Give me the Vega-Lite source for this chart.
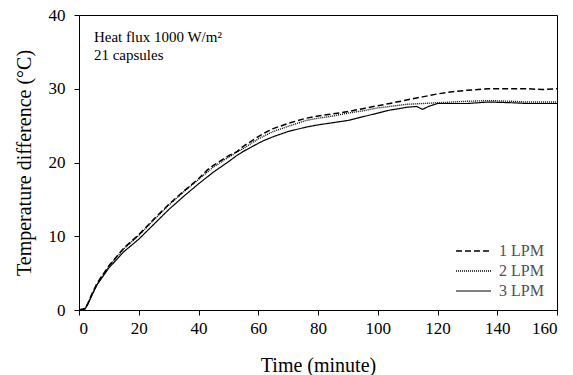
{
  "$schema": "https://vega.github.io/schema/vega-lite/v6.json",
  "width": 478,
  "height": 295,
  "padding": {"left": 14, "top": 6, "right": 2, "bottom": 0},
  "background": "white",
  "config": {
    "font": "Liberation Serif",
    "view": {"stroke": "black", "strokeWidth": 1},
    "text": {"font": "Liberation Serif"},
    "legend": {"labelFont": "Liberation Serif"},
    "axis": {"grid": false, "domainColor": "black", "tickColor": "black", "labelColor": "black", "titleColor": "black", "labelFont": "Liberation Serif", "titleFont": "Liberation Serif", "labelFontSize": 17, "titleFontSize": 20, "titleFontWeight": "normal", "tickSize": 5}
  },
  "datasets": {
    "curves": [
      {"time": 0, "temp": 0, "series": "1 LPM"},
      {"time": 1, "temp": 0.1, "series": "1 LPM"},
      {"time": 2, "temp": 0.2, "series": "1 LPM"},
      {"time": 3, "temp": 0.9, "series": "1 LPM"},
      {"time": 4, "temp": 1.9, "series": "1 LPM"},
      {"time": 6, "temp": 3.6, "series": "1 LPM"},
      {"time": 10, "temp": 6.0, "series": "1 LPM"},
      {"time": 15, "temp": 8.4, "series": "1 LPM"},
      {"time": 20, "temp": 10.2, "series": "1 LPM"},
      {"time": 25, "temp": 12.3, "series": "1 LPM"},
      {"time": 30, "temp": 14.3, "series": "1 LPM"},
      {"time": 35, "temp": 16.1, "series": "1 LPM"},
      {"time": 40, "temp": 17.8, "series": "1 LPM"},
      {"time": 43, "temp": 19.0, "series": "1 LPM"},
      {"time": 45, "temp": 19.6, "series": "1 LPM"},
      {"time": 50, "temp": 20.9, "series": "1 LPM"},
      {"time": 53, "temp": 21.5, "series": "1 LPM"},
      {"time": 55, "temp": 22.2, "series": "1 LPM"},
      {"time": 60, "temp": 23.5, "series": "1 LPM"},
      {"time": 62, "temp": 24.0, "series": "1 LPM"},
      {"time": 65, "temp": 24.6, "series": "1 LPM"},
      {"time": 70, "temp": 25.3, "series": "1 LPM"},
      {"time": 76, "temp": 26.0, "series": "1 LPM"},
      {"time": 80, "temp": 26.3, "series": "1 LPM"},
      {"time": 85, "temp": 26.6, "series": "1 LPM"},
      {"time": 90, "temp": 26.9, "series": "1 LPM"},
      {"time": 95, "temp": 27.3, "series": "1 LPM"},
      {"time": 100, "temp": 27.7, "series": "1 LPM"},
      {"time": 104, "temp": 28.0, "series": "1 LPM"},
      {"time": 110, "temp": 28.5, "series": "1 LPM"},
      {"time": 115, "temp": 28.9, "series": "1 LPM"},
      {"time": 120, "temp": 29.3, "series": "1 LPM"},
      {"time": 125, "temp": 29.6, "series": "1 LPM"},
      {"time": 130, "temp": 29.8, "series": "1 LPM"},
      {"time": 137, "temp": 30.0, "series": "1 LPM"},
      {"time": 145, "temp": 30.0, "series": "1 LPM"},
      {"time": 150, "temp": 30.0, "series": "1 LPM"},
      {"time": 155, "temp": 29.9, "series": "1 LPM"},
      {"time": 160, "temp": 30.0, "series": "1 LPM"},
      {"time": 0, "temp": 0, "series": "2 LPM"},
      {"time": 1, "temp": 0.1, "series": "2 LPM"},
      {"time": 2, "temp": 0.2, "series": "2 LPM"},
      {"time": 3, "temp": 0.9, "series": "2 LPM"},
      {"time": 4, "temp": 1.8, "series": "2 LPM"},
      {"time": 6, "temp": 3.5, "series": "2 LPM"},
      {"time": 10, "temp": 5.9, "series": "2 LPM"},
      {"time": 15, "temp": 8.3, "series": "2 LPM"},
      {"time": 20, "temp": 10.1, "series": "2 LPM"},
      {"time": 25, "temp": 12.2, "series": "2 LPM"},
      {"time": 30, "temp": 14.2, "series": "2 LPM"},
      {"time": 35, "temp": 16.0, "series": "2 LPM"},
      {"time": 40, "temp": 17.7, "series": "2 LPM"},
      {"time": 45, "temp": 19.4, "series": "2 LPM"},
      {"time": 50, "temp": 20.7, "series": "2 LPM"},
      {"time": 55, "temp": 21.9, "series": "2 LPM"},
      {"time": 60, "temp": 23.2, "series": "2 LPM"},
      {"time": 62, "temp": 23.6, "series": "2 LPM"},
      {"time": 65, "temp": 24.2, "series": "2 LPM"},
      {"time": 70, "temp": 24.9, "series": "2 LPM"},
      {"time": 76, "temp": 25.7, "series": "2 LPM"},
      {"time": 80, "temp": 26.0, "series": "2 LPM"},
      {"time": 85, "temp": 26.3, "series": "2 LPM"},
      {"time": 90, "temp": 26.7, "series": "2 LPM"},
      {"time": 95, "temp": 27.0, "series": "2 LPM"},
      {"time": 100, "temp": 27.4, "series": "2 LPM"},
      {"time": 104, "temp": 27.6, "series": "2 LPM"},
      {"time": 110, "temp": 27.9, "series": "2 LPM"},
      {"time": 115, "temp": 28.0, "series": "2 LPM"},
      {"time": 120, "temp": 28.1, "series": "2 LPM"},
      {"time": 125, "temp": 28.2, "series": "2 LPM"},
      {"time": 130, "temp": 28.3, "series": "2 LPM"},
      {"time": 137, "temp": 28.4, "series": "2 LPM"},
      {"time": 145, "temp": 28.3, "series": "2 LPM"},
      {"time": 150, "temp": 28.2, "series": "2 LPM"},
      {"time": 155, "temp": 28.2, "series": "2 LPM"},
      {"time": 160, "temp": 28.2, "series": "2 LPM"},
      {"time": 0, "temp": 0, "series": "3 LPM"},
      {"time": 2, "temp": 0.1, "series": "3 LPM"},
      {"time": 3, "temp": 0.8, "series": "3 LPM"},
      {"time": 4, "temp": 1.7, "series": "3 LPM"},
      {"time": 6, "temp": 3.4, "series": "3 LPM"},
      {"time": 10, "temp": 5.7, "series": "3 LPM"},
      {"time": 15, "temp": 7.9, "series": "3 LPM"},
      {"time": 20, "temp": 9.6, "series": "3 LPM"},
      {"time": 25, "temp": 11.6, "series": "3 LPM"},
      {"time": 30, "temp": 13.6, "series": "3 LPM"},
      {"time": 35, "temp": 15.4, "series": "3 LPM"},
      {"time": 40, "temp": 17.1, "series": "3 LPM"},
      {"time": 45, "temp": 18.7, "series": "3 LPM"},
      {"time": 50, "temp": 20.1, "series": "3 LPM"},
      {"time": 53, "temp": 21.0, "series": "3 LPM"},
      {"time": 55, "temp": 21.5, "series": "3 LPM"},
      {"time": 60, "temp": 22.6, "series": "3 LPM"},
      {"time": 62, "temp": 23.0, "series": "3 LPM"},
      {"time": 65, "temp": 23.5, "series": "3 LPM"},
      {"time": 70, "temp": 24.2, "series": "3 LPM"},
      {"time": 76, "temp": 24.8, "series": "3 LPM"},
      {"time": 80, "temp": 25.1, "series": "3 LPM"},
      {"time": 85, "temp": 25.4, "series": "3 LPM"},
      {"time": 90, "temp": 25.7, "series": "3 LPM"},
      {"time": 95, "temp": 26.2, "series": "3 LPM"},
      {"time": 100, "temp": 26.7, "series": "3 LPM"},
      {"time": 104, "temp": 27.1, "series": "3 LPM"},
      {"time": 110, "temp": 27.5, "series": "3 LPM"},
      {"time": 113, "temp": 27.6, "series": "3 LPM"},
      {"time": 115, "temp": 27.2, "series": "3 LPM"},
      {"time": 117, "temp": 27.6, "series": "3 LPM"},
      {"time": 120, "temp": 28.0, "series": "3 LPM"},
      {"time": 125, "temp": 28.0, "series": "3 LPM"},
      {"time": 130, "temp": 28.0, "series": "3 LPM"},
      {"time": 137, "temp": 28.2, "series": "3 LPM"},
      {"time": 145, "temp": 28.1, "series": "3 LPM"},
      {"time": 150, "temp": 28.0, "series": "3 LPM"},
      {"time": 155, "temp": 28.0, "series": "3 LPM"},
      {"time": 160, "temp": 28.0, "series": "3 LPM"}
    ],
    "notes": [
      {"time": 5, "temp": 37.0, "label": "Heat flux 1000 W/m²"},
      {"time": 5, "temp": 34.6, "label": "21 capsules"}
    ]
  },
  "layer": [
    {
      "data": {"name": "curves"},
      "mark": {"type": "line", "color": "black", "clip": true},
      "encoding": {
        "x": {"field": "time", "type": "quantitative", "scale": {"domain": [0, 160], "nice": false}, "axis": {"values": [0, 20, 40, 60, 80, 100, 120, 140, 160], "title": "Time (minute)", "titlePadding": 19, "labelPadding": 5, "labelFont": "Liberation Serif", "titleFont": "Liberation Serif"}},
        "y": {"field": "temp", "type": "quantitative", "scale": {"domain": [0, 40], "nice": false}, "axis": {"values": [0, 10, 20, 30, 40], "title": "Temperature difference (°C)", "titlePadding": 14, "labelPadding": 9, "labelFont": "Liberation Serif", "titleFont": "Liberation Serif"}},
        "detail": {"field": "series"},
        "strokeDash": {
          "field": "series", "type": "nominal",
          "scale": {"domain": ["1 LPM", "2 LPM", "3 LPM"], "range": [[6, 3], [1, 1], [1, 0]]},
          "legend": {"title": null, "orient": "none", "legendX": 376, "legendY": 227, "symbolType": "stroke", "symbolSize": 1225, "clipHeight": 18, "symbolStrokeWidth": 1.5, "symbolStrokeColor": "black", "labelFont": "Liberation Serif", "labelFontSize": 16, "labelColor": "#505050", "rowPadding": 2, "labelOffset": 7}
        },
        "strokeWidth": {"field": "series", "type": "nominal", "scale": {"domain": ["1 LPM", "2 LPM", "3 LPM"], "range": [1.5, 1.2, 1.6]}, "legend": null}
      }
    },
    {
      "data": {"name": "notes"},
      "mark": {"type": "text", "align": "left", "baseline": "middle", "font": "Liberation Serif", "fontSize": 15, "color": "black"},
      "encoding": {
        "x": {"field": "time", "type": "quantitative"},
        "y": {"field": "temp", "type": "quantitative"},
        "text": {"field": "label"}
      }
    }
  ]
}
